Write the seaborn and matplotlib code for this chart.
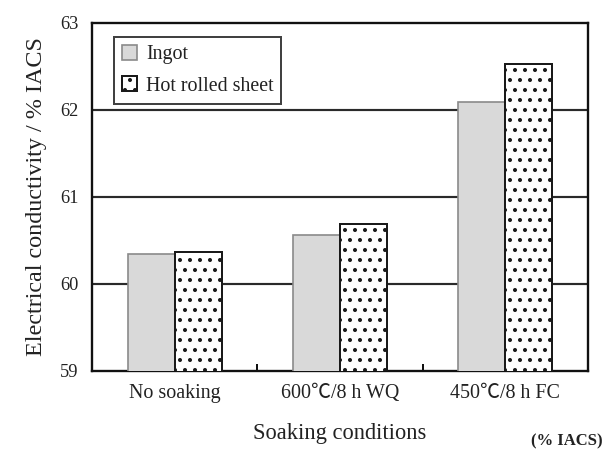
import matplotlib
matplotlib.use("Agg")
import matplotlib.pyplot as plt
from matplotlib.patches import Patch
import seaborn as sns
import pandas as pd

# Electrical conductivity after different soaking treatments
conditions = ["No soaking", "600\u2103/8 h WQ", "450\u2103/8 h FC"]
ingot = [60.34, 60.56, 62.09]
hot_rolled = [60.36, 60.68, 62.52]
series_names = ["Ingot", "Hot rolled sheet"]
y_ticks = [59, 60, 61, 62, 63]

df = pd.DataFrame({
    "condition": conditions * 2,
    "value": ingot + hot_rolled,
    "material": [series_names[0]] * 3 + [series_names[1]] * 3,
})

sns.set_theme(style="white")
plt.rcParams["font.family"] = ["Liberation Serif", "Noto Sans CJK JP"]
plt.rcParams["hatch.linewidth"] = 1.2

DPI = 120
fig = plt.figure(figsize=(606 / DPI, 450 / DPI), dpi=DPI)
ax = fig.add_axes([92 / 606, 1 - 370.5 / 450, 496 / 606, 348 / 450])

sns.barplot(data=df, x="condition", y="value", hue="material",
            hue_order=series_names, order=conditions, width=0.57,
            ax=ax, zorder=3, legend=False)

ingot_face, ingot_edge = "#d9d9d9", "#8a8a8a"
sheet_face, sheet_edge = "white", "#1a1a1a"
styles = [
    dict(facecolor=ingot_face, edgecolor=ingot_edge, hatch=None, lw=1.0),
    dict(facecolor=sheet_face, edgecolor=sheet_edge, hatch="..", lw=1.2),
]
for cont, st in zip(ax.containers, styles):
    for bar in cont:
        bar.set_facecolor(st["facecolor"])
        bar.set_edgecolor(st["edgecolor"])
        bar.set_linewidth(st["lw"])
        if st["hatch"]:
            bar.set_hatch(st["hatch"])

ax.set_ylim(59, 63)
ax.set_yticks(y_ticks)
ax.set_xlim(-0.5, 2.5)

# horizontal reference lines behind the bars
for yv in y_ticks[1:-1]:
    ax.axhline(yv, color="#2a2a2a", lw=1.3, zorder=1)

for s in ax.spines.values():
    s.set_color("#111111")
    s.set_linewidth(1.4)

tc = "#222222"
ax.tick_params(axis="y", length=0, pad=8, labelsize=11, labelcolor=tc)
ax.tick_params(axis="x", length=0, pad=8, labelsize=12, labelcolor=tc)
# small inward ticks between the groups
ax.set_xticks([0.5, 1.5], minor=True)
ax.tick_params(axis="x", which="minor", direction="in", length=4, width=1.2,
               color="#111111", bottom=True)

ax.set_xlabel("Soaking conditions", fontsize=13.5, color=tc, labelpad=12)
ax.set_ylabel("Electrical conductivity / % IACS", fontsize=14.5, color=tc,
              labelpad=8)

handles = [
    Patch(facecolor=ingot_face, edgecolor=ingot_edge, lw=1.0),
    Patch(facecolor=sheet_face, edgecolor=sheet_edge, hatch="..", lw=1.2),
]
leg = ax.legend(handles, series_names, loc="upper left",
                bbox_to_anchor=(0.044, 0.958), borderaxespad=0,
                fontsize=12, frameon=True, fancybox=False,
                handlelength=0.75, handleheight=0.75, handletextpad=0.45,
                labelspacing=0.6, borderpad=0.4, labelcolor=tc)
leg.get_frame().set_edgecolor("#111111")
leg.get_frame().set_linewidth(1.2)
leg.set_zorder(5)

fig.text(603 / 606, 1 - 441 / 450, "(% IACS)", ha="right", va="center",
         fontsize=10, color=tc, fontweight="bold")

fig.savefig("out.png", dpi=DPI, facecolor="white")
